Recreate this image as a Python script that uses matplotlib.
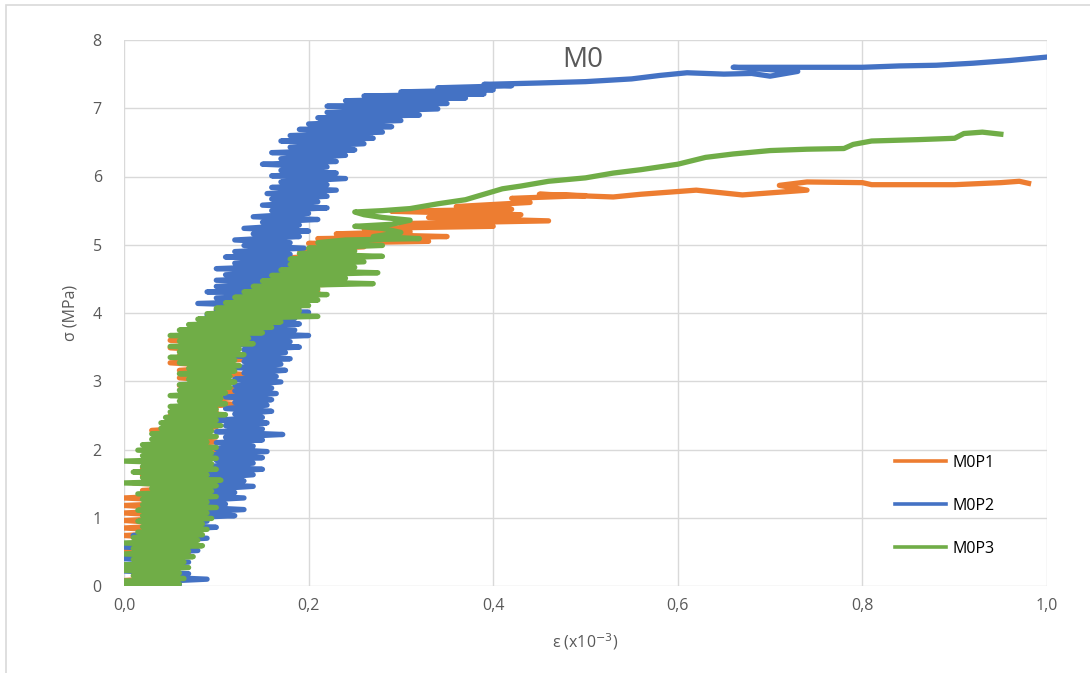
import matplotlib.pyplot as plt
from matplotlib.patches import Rectangle

# M0P1 (orange) - strain (x10^-3) and stress (MPa)
m0p1_strain = [0.00, 0.05, 0.00, 0.06, 0.01, 0.05, 0.00, 0.06, 0.01, 0.07, 0.00, 0.06, 0.01, 0.07, 0.00, 0.08,
               0.00, 0.07, 0.00, 0.08, 0.00, 0.08, 0.00, 0.09, 0.00, 0.08, 0.02, 0.09, 0.01, 0.09, 0.02, 0.10,
               0.02, 0.09, 0.02, 0.10, 0.03, 0.10, 0.03, 0.10, 0.04, 0.09, 0.03, 0.10, 0.05, 0.11, 0.05, 0.10,
               0.06, 0.12, 0.07, 0.135, 0.10, 0.13, 0.06, 0.12, 0.06, 0.13, 0.06, 0.12, 0.05, 0.13, 0.06, 0.12,
               0.05, 0.13, 0.05, 0.14, 0.07, 0.15, 0.08, 0.17, 0.09, 0.20, 0.10, 0.19, 0.11, 0.20, 0.12, 0.21,
               0.13, 0.22, 0.14, 0.21, 0.15, 0.23, 0.17, 0.22, 0.18, 0.24, 0.19, 0.26, 0.20, 0.33, 0.21, 0.35,
               0.23, 0.31, 0.26, 0.40, 0.30, 0.46, 0.33, 0.43, 0.29, 0.42, 0.36, 0.44, 0.42, 0.50, 0.45, 0.53,
               0.56, 0.60, 0.62, 0.67, 0.71, 0.74, 0.71, 0.74, 0.80, 0.81, 0.90, 0.95, 0.97, 0.98]
m0p1_stress = [0.00, 0.03, 0.08, 0.13, 0.19, 0.24, 0.30, 0.35, 0.41, 0.46, 0.52, 0.57, 0.63, 0.68, 0.74, 0.79,
               0.85, 0.90, 0.96, 1.01, 1.07, 1.12, 1.18, 1.23, 1.29, 1.34, 1.40, 1.45, 1.51, 1.56, 1.62, 1.67,
               1.73, 1.78, 1.84, 1.89, 1.95, 2.00, 2.06, 2.11, 2.17, 2.22, 2.28, 2.33, 2.39, 2.44, 2.50, 2.55,
               2.61, 2.66, 2.72, 2.77, 2.83, 2.88, 2.94, 2.99, 3.05, 3.10, 3.16, 3.21, 3.27, 3.32, 3.38, 3.43,
               3.49, 3.54, 3.60, 3.65, 3.71, 3.76, 3.82, 3.87, 3.93, 3.98, 4.04, 4.09, 4.15, 4.20, 4.26, 4.31,
               4.37, 4.42, 4.48, 4.53, 4.59, 4.64, 4.70, 4.75, 4.81, 4.86, 4.92, 4.97, 5.02, 5.05, 5.09, 5.12,
               5.16, 5.19, 5.24, 5.27, 5.31, 5.35, 5.40, 5.44, 5.49, 5.52, 5.56, 5.62, 5.68, 5.72, 5.74, 5.70,
               5.74, 5.78, 5.80, 5.73, 5.77, 5.80, 5.87, 5.92, 5.91, 5.88, 5.88, 5.91, 5.93, 5.90]

# M0P2 (blue)
m0p2_strain = [0.00, 0.06, 0.01, 0.09, 0.02, 0.07, 0.00, 0.06, 0.01, 0.07, 0.00, 0.06, 0.02, 0.08, 0.00, 0.07,
               0.02, 0.09, 0.01, 0.08, 0.03, 0.10, 0.04, 0.09, 0.05, 0.12, 0.06, 0.13, 0.07, 0.11, 0.06, 0.13,
               0.07, 0.12, 0.08, 0.14, 0.07, 0.13, 0.09, 0.14, 0.08, 0.15, 0.09, 0.14, 0.10, 0.15, 0.09, 0.155,
               0.10, 0.14, 0.10, 0.15, 0.11, 0.172, 0.10, 0.15, 0.11, 0.155, 0.10, 0.15, 0.12, 0.16, 0.11, 0.155,
               0.12, 0.16, 0.11, 0.165, 0.12, 0.16, 0.12, 0.17, 0.12, 0.165, 0.13, 0.175, 0.12, 0.17, 0.13, 0.18,
               0.12, 0.175, 0.13, 0.19, 0.12, 0.18, 0.13, 0.20, 0.12, 0.185, 0.11, 0.19, 0.10, 0.185, 0.09, 0.20,
               0.10, 0.19, 0.08, 0.185, 0.10, 0.19, 0.09, 0.18, 0.10, 0.19, 0.10, 0.185, 0.11, 0.19, 0.10, 0.18,
               0.12, 0.19, 0.11, 0.18, 0.12, 0.195, 0.13, 0.18, 0.12, 0.19, 0.14, 0.20, 0.13, 0.19, 0.15, 0.21,
               0.14, 0.20, 0.16, 0.22, 0.15, 0.21, 0.16, 0.22, 0.155, 0.23, 0.16, 0.22, 0.17, 0.24, 0.16, 0.23,
               0.17, 0.22, 0.15, 0.23, 0.17, 0.24, 0.16, 0.25, 0.18, 0.26, 0.17, 0.27, 0.18, 0.28, 0.19, 0.29,
               0.20, 0.30, 0.21, 0.32, 0.22, 0.34, 0.22, 0.35, 0.24, 0.37, 0.26, 0.39, 0.30, 0.40, 0.34, 0.42,
               0.39, 0.45, 0.50, 0.55, 0.58, 0.61, 0.65, 0.68, 0.70, 0.73, 0.66, 0.74, 0.80, 0.84, 0.88, 0.92,
               0.96, 1.00]
m0p2_stress = [0.00, 0.02, 0.05, 0.10, 0.14, 0.18, 0.22, 0.27, 0.31, 0.35, 0.40, 0.44, 0.48, 0.52, 0.57, 0.61,
               0.65, 0.70, 0.74, 0.78, 0.82, 0.86, 0.90, 0.95, 0.99, 1.03, 1.07, 1.12, 1.16, 1.20, 1.24, 1.29,
               1.33, 1.37, 1.41, 1.46, 1.50, 1.54, 1.58, 1.63, 1.67, 1.71, 1.75, 1.80, 1.84, 1.88, 1.92, 1.97,
               2.01, 2.05, 2.10, 2.14, 2.18, 2.22, 2.26, 2.30, 2.35, 2.39, 2.43, 2.47, 2.52, 2.56, 2.60, 2.65,
               2.69, 2.73, 2.77, 2.82, 2.86, 2.90, 2.94, 2.99, 3.03, 3.07, 3.12, 3.16, 3.20, 3.25, 3.29, 3.33,
               3.37, 3.42, 3.46, 3.50, 3.54, 3.58, 3.63, 3.67, 3.71, 3.75, 3.80, 3.84, 3.88, 3.92, 3.97, 4.01,
               4.05, 4.09, 4.14, 4.18, 4.22, 4.27, 4.31, 4.35, 4.39, 4.44, 4.48, 4.52, 4.56, 4.61, 4.65, 4.69,
               4.73, 4.78, 4.82, 4.86, 4.90, 4.95, 4.99, 5.03, 5.07, 5.12, 5.16, 5.20, 5.24, 5.29, 5.33, 5.37,
               5.41, 5.46, 5.50, 5.54, 5.58, 5.63, 5.67, 5.71, 5.75, 5.80, 5.84, 5.88, 5.92, 5.97, 6.01, 6.05,
               6.09, 6.14, 6.18, 6.22, 6.26, 6.31, 6.35, 6.39, 6.43, 6.48, 6.52, 6.56, 6.60, 6.65, 6.69, 6.73,
               6.77, 6.82, 6.86, 6.90, 6.94, 6.99, 7.03, 7.07, 7.11, 7.15, 7.18, 7.21, 7.24, 7.27, 7.30, 7.33,
               7.35, 7.37, 7.39, 7.43, 7.48, 7.52, 7.50, 7.51, 7.47, 7.54, 7.60, 7.60, 7.60, 7.62, 7.63, 7.66,
               7.70, 7.75]

# M0P3 (green)
m0p3_strain = [0.00, 0.06, 0.00, 0.065, 0.01, 0.06, 0.00, 0.07, 0.00, 0.065, 0.01, 0.075, 0.00, 0.07, 0.01, 0.085,
               0.00, 0.08, 0.01, 0.085, 0.015, 0.09, 0.02, 0.085, 0.015, 0.095, 0.02, 0.09, 0.015, 0.10, 0.02, 0.09,
               0.02, 0.10, 0.015, 0.095, 0.03, 0.10, 0.00, 0.105, 0.02, 0.09, 0.01, 0.10, 0.02, 0.095, 0.00, 0.10,
               0.02, 0.095, 0.015, 0.10, 0.02, 0.09, 0.03, 0.10, 0.03, 0.095, 0.04, 0.105, 0.04, 0.10, 0.045, 0.11,
               0.05, 0.10, 0.05, 0.11, 0.06, 0.105, 0.05, 0.11, 0.06, 0.115, 0.06, 0.12, 0.07, 0.115, 0.06, 0.12,
               0.07, 0.125, 0.06, 0.12, 0.05, 0.13, 0.06, 0.125, 0.05, 0.14, 0.06, 0.135, 0.05, 0.15, 0.06, 0.16,
               0.07, 0.17, 0.08, 0.21, 0.09, 0.19, 0.10, 0.20, 0.11, 0.21, 0.12, 0.22, 0.13, 0.21, 0.14, 0.27,
               0.15, 0.24, 0.16, 0.275, 0.17, 0.25, 0.18, 0.26, 0.18, 0.28, 0.19, 0.25, 0.20, 0.28, 0.21, 0.24,
               0.32, 0.27, 0.30, 0.28, 0.25, 0.29, 0.31, 0.28, 0.26, 0.25, 0.28, 0.31, 0.34, 0.37, 0.39, 0.41,
               0.43, 0.46, 0.50, 0.53, 0.56, 0.60, 0.63, 0.66, 0.70, 0.74, 0.78, 0.79, 0.81, 0.86, 0.90, 0.91,
               0.93, 0.95]
m0p3_stress = [0.00, 0.03, 0.07, 0.11, 0.15, 0.19, 0.23, 0.27, 0.31, 0.35, 0.39, 0.43, 0.47, 0.51, 0.55, 0.59,
               0.63, 0.67, 0.71, 0.75, 0.79, 0.83, 0.87, 0.91, 0.95, 0.99, 1.03, 1.07, 1.11, 1.15, 1.19, 1.23,
               1.27, 1.31, 1.35, 1.39, 1.43, 1.47, 1.51, 1.55, 1.59, 1.63, 1.67, 1.71, 1.75, 1.79, 1.83, 1.87,
               1.91, 1.95, 1.99, 2.03, 2.07, 2.11, 2.15, 2.19, 2.23, 2.27, 2.31, 2.35, 2.39, 2.43, 2.47, 2.51,
               2.55, 2.59, 2.63, 2.67, 2.71, 2.75, 2.79, 2.83, 2.87, 2.91, 2.95, 2.99, 3.03, 3.07, 3.11, 3.15,
               3.19, 3.23, 3.27, 3.31, 3.35, 3.39, 3.43, 3.47, 3.51, 3.55, 3.59, 3.63, 3.67, 3.71, 3.75, 3.79,
               3.83, 3.87, 3.91, 3.95, 3.99, 4.03, 4.07, 4.11, 4.15, 4.19, 4.23, 4.27, 4.31, 4.35, 4.39, 4.43,
               4.47, 4.51, 4.55, 4.59, 4.63, 4.67, 4.71, 4.75, 4.79, 4.83, 4.87, 4.91, 4.95, 4.99, 5.03, 5.07,
               5.09, 5.12, 5.18, 5.24, 5.27, 5.30, 5.36, 5.40, 5.44, 5.48, 5.50, 5.53, 5.60, 5.66, 5.74, 5.82,
               5.86, 5.93, 5.98, 6.05, 6.10, 6.18, 6.28, 6.33, 6.38, 6.40, 6.41, 6.47, 6.52, 6.54, 6.56, 6.63,
               6.65, 6.62]

x_ticks = [0.0, 0.2, 0.4, 0.6, 0.8, 1.0]
x_labels = ['0,0', '0,2', '0,4', '0,6', '0,8', '1,0']
y_ticks = [0, 1, 2, 3, 4, 5, 6, 7, 8]

plt.rcParams['font.family'] = ['Open Sans', 'DejaVu Sans']
grey_txt = '#595959'
grid_c = '#d9d9d9'

fig = plt.figure(figsize=(10.9, 6.73), dpi=100)
ax = fig.add_axes([124/1090, 87/673, 923/1090, 546/673])

ax.plot(m0p1_strain, m0p1_stress, color='#ED7D31', lw=3.8, label='M0P1', solid_joinstyle='round')
ax.plot(m0p2_strain, m0p2_stress, color='#4472C4', lw=3.8, label='M0P2', solid_joinstyle='round')
ax.plot(m0p3_strain, m0p3_stress, color='#70AD47', lw=3.8, label='M0P3', solid_joinstyle='round')

ax.set_xlim(0, 1)
ax.set_ylim(0, 8)
ax.set_xticks(x_ticks)
ax.set_xticklabels(x_labels)
ax.set_yticks(y_ticks)
ax.tick_params(length=0, labelsize=11.5, colors=grey_txt)
ax.tick_params(axis='y', pad=16)
ax.tick_params(axis='x', pad=9)
ax.grid(True, color=grid_c, lw=1)
ax.set_axisbelow(True)
for s in ax.spines.values():
    s.set_visible(False)

ax.set_xlabel(r'ε (x10$^{-3}$)', fontsize=11.5, color=grey_txt, labelpad=12)
ax.set_ylabel('σ (MPa)', fontsize=11.5, color=grey_txt, labelpad=10)
ax.text(0.497, 0.963, 'M0', transform=ax.transAxes, fontsize=20, color=grey_txt,
        ha='center', va='center')

leg = ax.legend(loc='upper left', bbox_to_anchor=(771/923, 131/546), frameon=False,
                fontsize=11.5, handlelength=3.2, handletextpad=0.4, labelspacing=1.68,
                borderpad=0, borderaxespad=0)
for h in leg.get_lines():
    h.set_linewidth(2.6)

# chart box border (only top and left edges fall inside the image)
fig.patches.append(Rectangle((6/1090, -0.05), 1.2, 1.05 - 5/673, transform=fig.transFigure,
                             fill=False, edgecolor=grid_c, lw=1.2))

fig.savefig('out.png', dpi=100)
